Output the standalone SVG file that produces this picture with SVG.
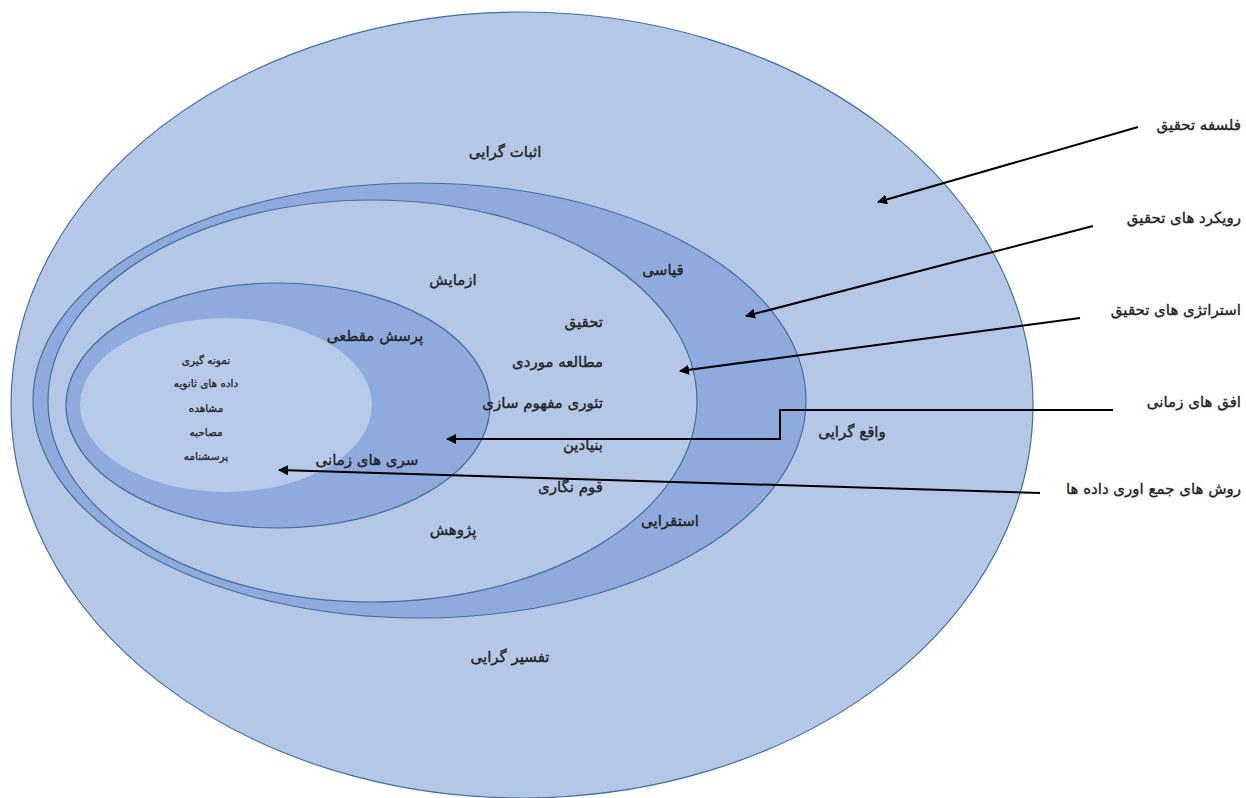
<svg xmlns="http://www.w3.org/2000/svg" width="1246" height="798" viewBox="0 0 1246 798">
<style>
.lt{fill:#b4c7e7;stroke:#41719c;stroke-width:1.2}
.dk{fill:#8faadc;stroke:#41719c;stroke-width:1.2}
.in{fill:#b7c9e8;stroke:none}
text{font-family:"DejaVu Sans",sans-serif;fill:#222;font-size:15px;stroke:#222;stroke-width:0.35}
.s{font-size:10.5px;stroke-width:0.25}
.c{text-anchor:middle}
.r{text-anchor:end}
.ln{fill:none;stroke:#000;stroke-width:2;marker-end:url(#ah)}
</style>
<defs>
<marker id="ah" viewBox="0 0 10 10" refX="9" refY="5" markerWidth="5" markerHeight="5" orient="auto" markerUnits="strokeWidth">
<path d="M0,0 L10,5 L0,10 z" fill="#000"/>
</marker>
</defs>
<rect width="1246" height="798" fill="#fff"/>
<g id="philosophy">
<ellipse class="lt" cx="522" cy="405" rx="511" ry="393"/>
</g>
<g id="approaches">
<ellipse class="dk" cx="419.5" cy="400.5" rx="386.5" ry="217.5"/>
</g>
<g id="strategies">
<ellipse class="lt" cx="372.5" cy="401" rx="324.5" ry="201"/>
</g>
<g id="horizons">
<ellipse class="dk" cx="278" cy="405.5" rx="212" ry="122.5"/>
</g>
<g id="methods">
<ellipse class="in" cx="226" cy="405" rx="146" ry="87"/>
</g>
<g id="philosophy-labels">
<text class="c" x="505" y="157">اثبات گرایی</text>
<text class="c" x="510" y="662">تفسیر گرایی</text>
</g>
<g id="approaches-labels">
<text class="c" x="663" y="275">قیاسی</text>
<text class="c" x="852" y="437">واقع گرایی</text>
<text class="c" x="670" y="526">استقرایی</text>
</g>
<g id="strategies-labels">
<text class="c" x="453" y="285">ازمایش</text>
<text class="r" x="603" y="327">تحقیق</text>
<text class="r" x="603" y="367">مطالعه موردی</text>
<text class="r" x="603" y="408">تئوری مفهوم سازی</text>
<text class="r" x="603" y="450">بنیادین</text>
<text class="r" x="603" y="492">قوم نگاری</text>
<text class="c" x="453" y="535">پژوهش</text>
</g>
<g id="horizons-labels">
<text class="c" x="375" y="341">پرسش مقطعی</text>
<text class="c" x="367" y="465">سری های زمانی</text>
</g>
<g id="methods-labels">
<text class="c s" x="206" y="364">نمونه گیری</text>
<text class="c s" x="206" y="387">داده های ثانویه</text>
<text class="c s" x="206" y="412">مشاهده</text>
<text class="c s" x="206" y="436">مصاحبه</text>
<text class="c s" x="206" y="460">پرسشنامه</text>
</g>
<g id="labels">
<text class="r" x="1241" y="130">فلسفه تحقیق</text>
<text class="r" x="1241" y="223">رویکرد های تحقیق</text>
<text class="r" x="1241" y="315">استراتژی های تحقیق</text>
<text class="r" x="1241" y="407">افق های زمانی</text>
<text class="r" x="1241" y="494">روش های جمع اوری داده ها</text>
</g>
<g id="connectors">
<line class="ln" x1="1138" y1="127" x2="878" y2="202"/>
<line class="ln" x1="1093" y1="226" x2="746" y2="316"/>
<line class="ln" x1="1080" y1="318" x2="680" y2="371"/>
<polyline class="ln" points="1113,410 780,410 780,439 447,439"/>
<line class="ln" x1="1040" y1="493" x2="279" y2="470"/>
</g>
</svg>
